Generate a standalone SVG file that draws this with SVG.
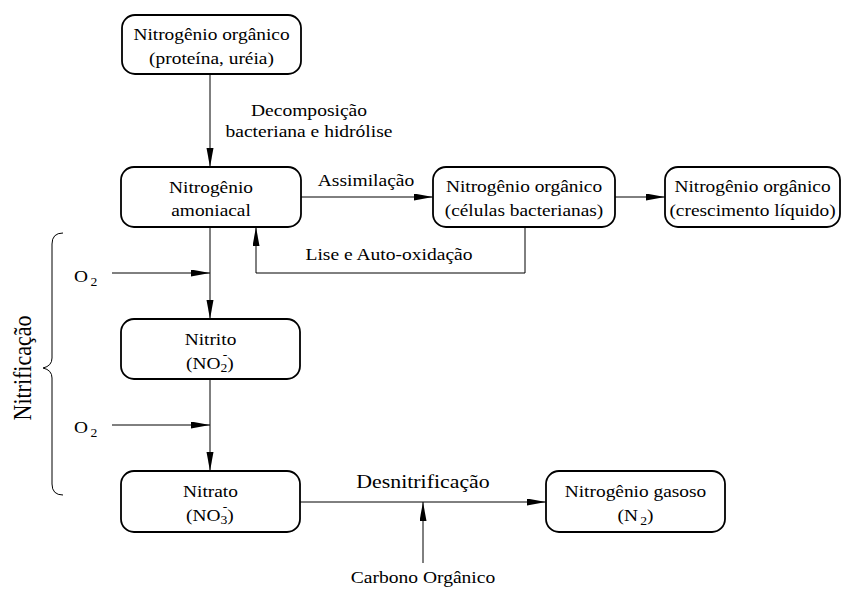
<svg xmlns="http://www.w3.org/2000/svg" width="843" height="589" viewBox="0 0 843 589" font-family="'Liberation Serif', 'Times New Roman', serif">
<defs>
<marker id="ah" markerWidth="19" markerHeight="8" refX="19" refY="3.5" orient="auto" markerUnits="userSpaceOnUse">
<path d="M0,0 L19,3.5 L0,7 z" fill="#000"/>
</marker>
<style>
.box{fill:#fff;stroke:#000;stroke-width:1.8}
.ln{fill:none;stroke:#000;stroke-width:1}
.t{font-family:"Liberation Serif","Times New Roman",serif;font-size:17px;fill:#000;text-anchor:middle}
.l{text-anchor:start}
.s{font-size:12px}
</style>
</defs>
<rect width="843" height="589" fill="#fff"/>
<g id="connectors">
<line class="ln" x1="210" y1="74" x2="210" y2="167" marker-end="url(#ah)"/>
<line class="ln" x1="301" y1="197" x2="433" y2="197" marker-end="url(#ah)"/>
<line class="ln" x1="615" y1="197" x2="665" y2="197" marker-end="url(#ah)"/>
<polyline class="ln" points="525,227 525,273 256,273 256,227" marker-end="url(#ah)"/>
<line class="ln" x1="210" y1="227" x2="210" y2="319" marker-end="url(#ah)"/>
<line class="ln" x1="112" y1="273" x2="210" y2="273" marker-end="url(#ah)"/>
<line class="ln" x1="210" y1="379" x2="210" y2="471" marker-end="url(#ah)"/>
<line class="ln" x1="112" y1="425" x2="210" y2="425" marker-end="url(#ah)"/>
<line class="ln" x1="300" y1="502" x2="546" y2="502" marker-end="url(#ah)"/>
<line class="ln" x1="423" y1="563" x2="423" y2="502" marker-end="url(#ah)"/>
<text class="t" transform="translate(309,116) scale(1.15,1)">Decomposição</text>
<text class="t" transform="translate(309,137) scale(1.15,1)">bacteriana e hidrólise</text>
<text class="t" transform="translate(366,186) scale(1.15,1)">Assimilação</text>
<text class="t" transform="translate(389,260) scale(1.15,1)">Lise e Auto-oxidação</text>
<text class="t" transform="translate(423,488) scale(1.15,1)" style="font-size:19px">Desnitrificação</text>
<text class="t" transform="translate(423,583) scale(1.15,1)">Carbono Orgânico</text>
</g>
<g id="n1">
<rect class="box" x="122" y="15" width="179" height="59" rx="13"/>
<text class="t" transform="translate(211.5,40) scale(1.14,1)">Nitrogênio orgânico</text>
<text class="t" transform="translate(211.5,64) scale(1.14,1)">(proteína, uréia)</text>
</g>
<g id="n2">
<rect class="box" x="121" y="167" width="180" height="60" rx="13"/>
<text class="t" transform="translate(211,193) scale(1.14,1)">Nitrogênio</text>
<text class="t" transform="translate(211,216) scale(1.14,1)">amoniacal</text>
</g>
<g id="n3">
<rect class="box" x="433" y="167" width="182" height="60" rx="13"/>
<text class="t" transform="translate(524,192) scale(1.14,1)">Nitrogênio orgânico</text>
<text class="t" transform="translate(524,216) scale(1.14,1)">(células bacterianas)</text>
</g>
<g id="n4">
<rect class="box" x="665" y="167" width="175" height="60" rx="13"/>
<text class="t" transform="translate(752.5,192) scale(1.14,1)">Nitrogênio orgânico</text>
<text class="t" transform="translate(752.5,216) scale(1.14,1)">(crescimento líquido)</text>
</g>
<g id="n5">
<rect class="box" x="121" y="319" width="179" height="60" rx="13"/>
<text class="t" transform="translate(210.5,345) scale(1.14,1)">Nitrito</text>
<text class="t l" transform="translate(186,369) scale(1.14,1)">(NO<tspan class="s" dy="3">2</tspan><tspan dy="-3">)</tspan></text>
<text class="t s" transform="translate(225,359) scale(1.14,1)">-</text>
</g>
<g id="n6">
<rect class="box" x="121" y="471" width="179" height="61" rx="13"/>
<text class="t" transform="translate(210.5,497) scale(1.14,1)">Nitrato</text>
<text class="t l" transform="translate(186,521) scale(1.14,1)">(NO<tspan class="s" dy="3">3</tspan><tspan dy="-3">)</tspan></text>
<text class="t s" transform="translate(225,511) scale(1.14,1)">-</text>
</g>
<g id="n7">
<rect class="box" x="546" y="471" width="179" height="61" rx="13"/>
<text class="t" transform="translate(635.5,497) scale(1.14,1)">Nitrogênio gasoso</text>
<text class="t" transform="translate(635.5,521) scale(1.14,1)">(N<tspan class="s" dx="2" dy="4">2</tspan><tspan dy="-4">)</tspan></text>
</g>
<g id="o2a">
<text class="t" transform="translate(81,282) scale(1.14,1)">O</text>
<text class="t s" transform="translate(94,286) scale(1.14,1)">2</text>
</g>
<g id="o2b">
<text class="t" transform="translate(81,433) scale(1.14,1)">O</text>
<text class="t s" transform="translate(94,437) scale(1.14,1)">2</text>
</g>
<g id="nitrificacao">
<path class="ln" d="M63,233 Q52,233 52,244 L52,358 Q52,366 43,368 Q52,370 52,378 L52,484 Q52,495 63,495"/>
<text class="t" transform="translate(31,368) scale(1.15,1) rotate(-90)" style="font-size:22px">Nitrificação</text>
</g>
</svg>
